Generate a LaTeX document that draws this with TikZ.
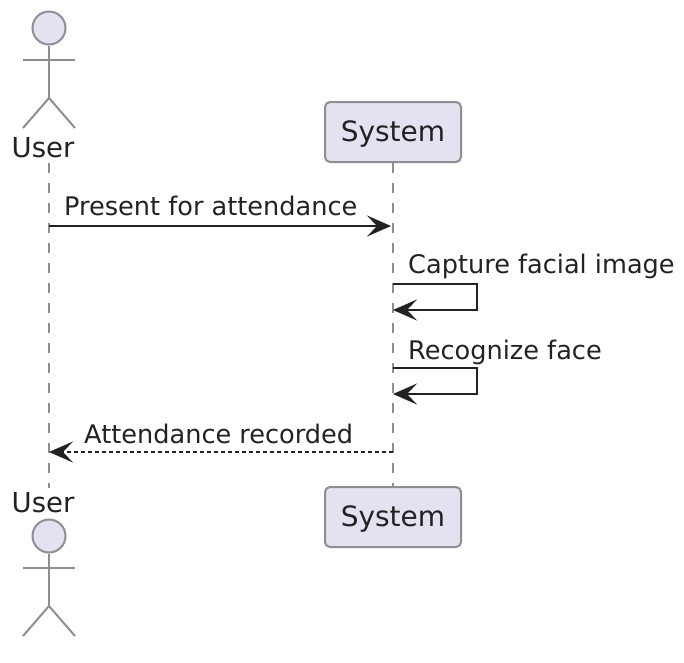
\documentclass[tikz,border=0pt]{standalone}
\usepackage{fontspec}
\setmainfont{DejaVu Sans}
\usetikzlibrary{arrows.meta}
\definecolor{partfill}{HTML}{E2E2F0}
\definecolor{partline}{HTML}{8E8E94}
\definecolor{inkline}{HTML}{222222}
\tikzset{
 figure/.style={draw=partline,line width=2pt},
 head/.style={circle,figure,fill=partfill,minimum size=33pt,inner sep=0pt},
 partbox/.style={rounded corners=5pt,figure,fill=partfill,minimum width=136pt,minimum height=60pt,inner sep=0pt,font=\fontsize{28}{32}\selectfont,text=inkline,text height=23pt,text depth=4pt},
 partname/.style={inner sep=0pt,anchor=base,font=\fontsize{27.5}{32}\selectfont,text=inkline},
 lifeline/.style={draw=partline,line width=1.6pt,dash pattern=on 10pt off 10pt},
 msg/.style={inner sep=0pt,anchor=base west,font=\fontsize{25.6}{30}\selectfont,text=inkline},
 call/.style={draw=inkline,line width=2pt,-{Stealth[length=24pt,width=21pt,inset=10pt]}},
 reply/.style={call,dash pattern=on 4pt off 3pt}
}
\begin{document}
\begin{tikzpicture}[x=1pt,y=-1pt]
 \useasboundingbox (0,0) rectangle (684,662);
 % participants, top row
 \node[partname] (usertop) at (43,157) {User};
 \node[partbox] (systop) at (393,132) {System};
 % participants, bottom row
 \node[partname] (userbot) at (43,512) {User};
 \node[partbox] (sysbot) at (393,517) {System};
 % lifelines
 \coordinate (userstart) at (49,163);
 \coordinate (userend) at (49,488);
 \draw[lifeline] (userstart)--(userend);
 \draw[lifeline] (systop.south)--(sysbot.north);
 % actor on top
 \node[head] (headtop) at (49,28) {};
 \coordinate (armltop) at (23,60);
 \coordinate (armrtop) at (75,60);
 \coordinate (hiptop) at (49,98);
 \coordinate (legltop) at (23,128);
 \coordinate (legrtop) at (75,128);
 \draw[figure] (headtop.south)--(hiptop);
 \draw[figure] (armltop)--(armrtop);
 \draw[figure] (legltop)--(hiptop)--(legrtop);
 % actor at the bottom
 \node[head] (headbot) at (49,536) {};
 \coordinate (armlbot) at (23,568);
 \coordinate (armrbot) at (75,568);
 \coordinate (hipbot) at (49,606);
 \coordinate (leglbot) at (23,636);
 \coordinate (legrbot) at (75,636);
 \draw[figure] (headbot.south)--(hipbot);
 \draw[figure] (armlbot)--(armrbot);
 \draw[figure] (leglbot)--(hipbot)--(legrbot);
 % messages
 \coordinate (presentfrom) at (49,226);
 \coordinate (presentto) at (391,226);
 \draw[call] (presentfrom)--(presentto);
 \node[msg] (presentlabel) at (64,215) {Present for attendance};
 \coordinate (capturefrom) at (393,284);
 \coordinate (capturecorner) at (477,284);
 \coordinate (captureback) at (477,310);
 \coordinate (captureto) at (393,310);
 \draw[call] (capturefrom)--(capturecorner)--(captureback)--(captureto);
 \node[msg] (capturelabel) at (408,273.5) {Capture facial image};
 \coordinate (recogfrom) at (393,368);
 \coordinate (recogcorner) at (477,368);
 \coordinate (recogback) at (477,394);
 \coordinate (recogto) at (393,394);
 \draw[call] (recogfrom)--(recogcorner)--(recogback)--(recogto);
 \node[msg] (recoglabel) at (408,359) {Recognize face};
 \coordinate (recordfrom) at (393,452);
 \coordinate (recordto) at (49,452);
 \draw[reply] (recordfrom)--(recordto);
 \node[msg] (recordlabel) at (84,443) {Attendance recorded};
\end{tikzpicture}
\end{document}
